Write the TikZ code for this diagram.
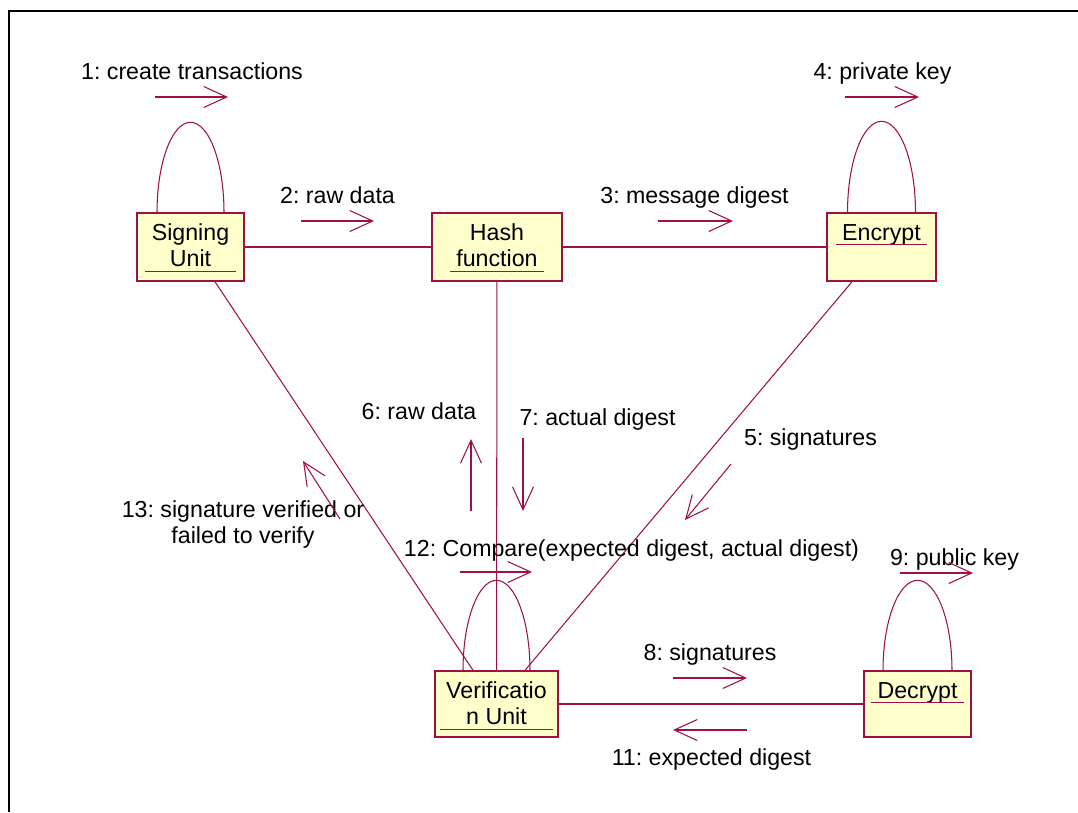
\documentclass[tikz,border=0pt]{standalone}
\usepackage{fontspec}
\setmainfont{Liberation Sans}
\frenchspacing
\usetikzlibrary{positioning}
\usetikzlibrary{arrows.meta}

\definecolor{roseline}{RGB}{160,16,72}
\definecolor{rosefill}{RGB}{255,255,204}

\begin{document}
\begin{tikzpicture}[x=0.02cm,y=-0.02cm,
  every node/.style={font=\fontsize{13.2pt}{14.8pt}\selectfont},
  object/.style={draw=roseline,fill=rosefill,line width=0.8pt,inner sep=0pt},
  objname/.style={align=center,inner xsep=0.12cm,inner ysep=0pt,text depth=2.3pt},
  link/.style={draw=roseline,line width=0.6pt},
  uline/.style={draw=roseline,line width=0.6pt},
  selfloop/.style={draw=roseline,line width=0.6pt},
  msg/.style={draw=roseline,line width=0.6pt,-{Straight Barb[length=0.46cm,width=0.42cm]}},
  frame/.style={draw=black,line width=1.5pt}]
  \useasboundingbox (0,0) rectangle (1078,812);
  \draw[frame] (9,812) -- (9,11) -- (1078,11);

  % objects
  \node[object,minimum width=2.14cm,minimum height=1.36cm] (sign) at (190.5,247) {};
  \node[object,minimum width=2.6cm,minimum height=1.36cm] (hash) at (497,247) {};
  \node[object,minimum width=2.18cm,minimum height=1.36cm] (enc) at (881.5,247) {};
  \node[object,minimum width=2.46cm,minimum height=1.32cm] (ver) at (496.5,704) {};
  \node[object,minimum width=2.14cm,minimum height=1.32cm] (dec) at (917.5,704) {};

  \node[objname,below=0.23cm of sign.north] (signt) {Signing\\Unit};
  \node[objname,below=0.23cm of hash.north] (hasht) {Hash\\function};
  \node[objname,below=0.23cm of enc.north] (enct) {Encrypt};
  \node[objname,below=0.23cm of ver.north] (vert) {Verificatio\\n Unit};
  \node[objname,below=0.23cm of dec.north] (dect) {Decrypt};
  \foreach \t in {signt,hasht,enct,vert,dect}
    \draw[uline] (\t.south west) -- (\t.south east);

  % links
  \draw[link] (sign) -- (hash);
  \draw[link] (hash) -- (enc);
  \draw[link] (hash) -- (ver);
  \draw[link] (ver) -- (dec);
  \draw[link] ([xshift=0.49cm]sign.south) -- ([xshift=-0.47cm]ver.north);
  \draw[link] ([xshift=-0.59cm]enc.south) -- ([xshift=0.57cm]ver.north);

  % self links
  \draw[selfloop] ([xshift=-0.67cm]sign.north) arc[start angle=180,end angle=0,x radius=0.67cm,y radius=1.8cm];
  \draw[selfloop] ([xshift=-0.68cm]enc.north) arc[start angle=180,end angle=0,x radius=0.68cm,y radius=1.82cm];
  \draw[selfloop] ([xshift=-0.67cm]ver.north) arc[start angle=180,end angle=0,x radius=0.67cm,y radius=1.8cm];
  \draw[selfloop] ([xshift=-0.69cm]dec.north) arc[start angle=180,end angle=0,x radius=0.69cm,y radius=1.8cm];

  % messages
  \node[anchor=base] (l1) at (192,79) {1: create transactions};
  \node[anchor=base] (l2) at (337.5,203) {2: raw data};
  \node[anchor=base] (l3) at (694.5,203) {3: message digest};
  \node[anchor=base] (l4) at (882.5,79) {4: private key};
  \node[anchor=base] (l5) at (810.5,445) {5: signatures};
  \node[anchor=base] (l6) at (419,419) {6: raw data};
  \node[anchor=base] (l7) at (597.5,425) {7: actual digest};
  \node[anchor=base] (l8) at (710,660) {8: signatures};
  \node[anchor=base] (l9) at (954.5,565) {9: public key};
  \node[anchor=base] (l11) at (711.5,765) {11: expected digest};
  \node[anchor=base] (l12) at (631.5,556) {12: Compare(expected digest, actual digest)};
  \node[align=center] (l13) at (243,524) {13: signature verified or\\failed to verify};

  \coordinate (s1) at (155,97);  \coordinate (e1) at (228,97);
  \coordinate (s2) at (301,221); \coordinate (e2) at (374,221);
  \coordinate (s3) at (658,221); \coordinate (e3) at (733,221);
  \coordinate (s4) at (845,97);  \coordinate (e4) at (919,97);
  \coordinate (s5) at (731,464); \coordinate (e5) at (685,520);
  \coordinate (s6) at (471,511); \coordinate (e6) at (471,439);
  \coordinate (s7) at (523,438); \coordinate (e7) at (523,511);
  \coordinate (s8) at (673,678); \coordinate (e8) at (747,678);
  \coordinate (s9) at (900,573); \coordinate (e9) at (973,573);
  \coordinate (s11) at (747,730); \coordinate (e11) at (673,730);
  \coordinate (s12) at (460,572); \coordinate (e12) at (532,572);
  \coordinate (s13) at (340,519); \coordinate (e13) at (303,461);
  \foreach \i in {1,...,9,11,12,13}
    \draw[msg] (s\i) -- (e\i);
\end{tikzpicture}
\end{document}
